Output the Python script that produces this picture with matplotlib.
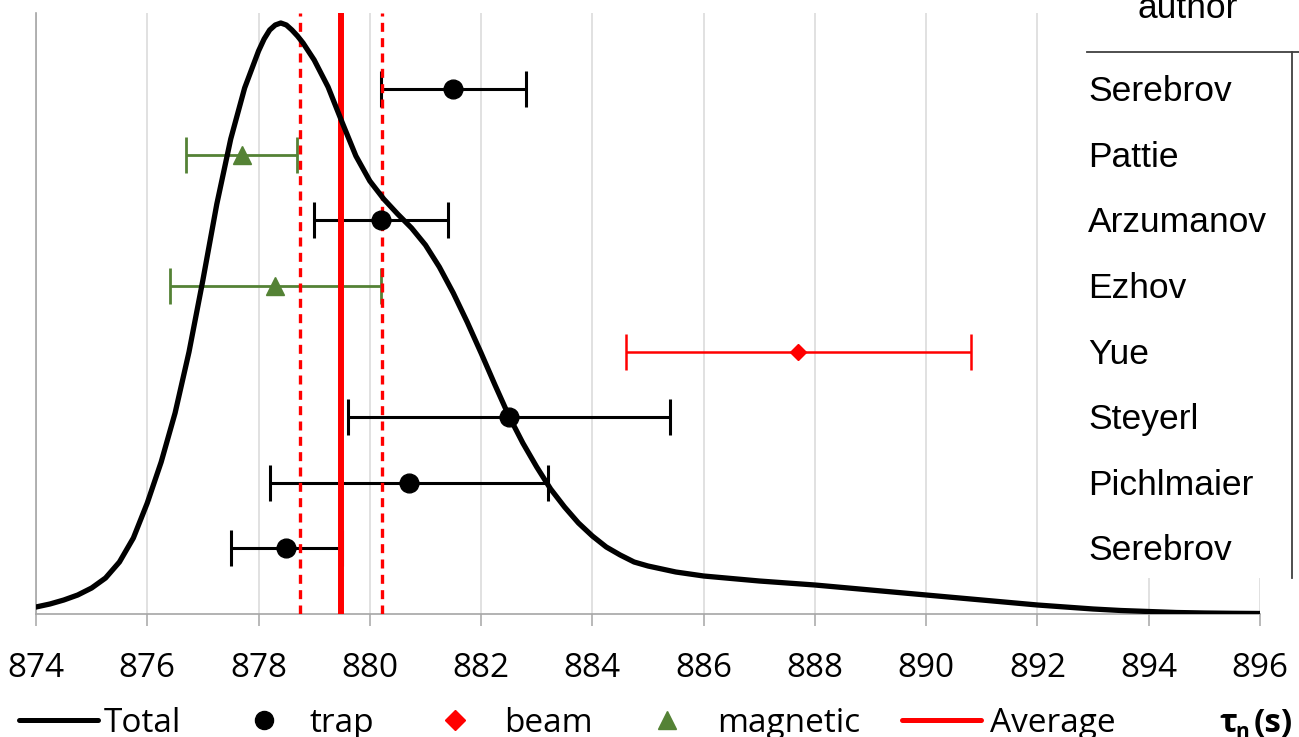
import matplotlib
matplotlib.use("Agg")
import matplotlib.pyplot as plt
from matplotlib.lines import Line2D
from matplotlib.patches import Rectangle

# Total distribution curve (arbitrary units)
curve_x = [874.0, 874.25, 874.5, 874.75, 875.0, 875.25, 875.5, 875.75,
           876.0, 876.25, 876.5, 876.75, 877.0, 877.25, 877.5, 877.75,
           878.0, 878.1, 878.2, 878.3, 878.4, 878.5, 878.6, 878.7, 878.8,
           879.0, 879.25, 879.5, 879.75, 880.0, 880.25, 880.5, 880.75,
           881.0, 881.25, 881.5, 881.75, 882.0, 882.25, 882.5, 882.75,
           883.0, 883.25, 883.5, 883.75, 884.0, 884.25, 884.5, 884.75,
           885.0, 885.25, 885.5, 885.75, 886.0, 886.5, 887.0, 887.5,
           888.0, 888.5, 889.0, 889.5, 890.0, 890.5, 891.0, 891.5, 892.0,
           892.5, 893.0, 893.5, 894.0, 894.5, 895.0, 895.5, 896.0]
curve_y = [7, 10, 14, 19, 26, 36, 52, 76,
           111, 152, 201, 262, 334, 410, 475, 526,
           563, 575, 584, 589, 591, 589, 584, 578, 571,
           554, 527, 492, 458, 433, 415, 400, 386,
           369, 347, 321, 292, 261, 229, 198, 171,
           147, 125, 107, 91, 78, 67, 59, 52,
           48, 45, 42, 40, 38, 35.5, 33, 31,
           29, 26.5, 24, 21.5, 19, 16.5, 14, 11.5, 9,
           7, 5, 3.5, 2.5, 1.5, 1, 0.7, 0.5]

# measurements, top to bottom
authors = ["Serebrov", "Pattie", "Arzumanov", "Ezhov", "Yue", "Steyerl",
           "Pichlmaier", "Serebrov"]
kinds = ["trap", "magnetic", "trap", "magnetic", "beam", "trap", "trap", "trap"]
tau = [881.5, 877.7, 880.2, 878.3, 887.7, 882.5, 880.7, 878.5]
tau_err = [1.3, 1.0, 1.2, 1.9, 3.1, 2.9, 2.5, 1.0]

average = 879.48
average_err = 0.74

W, H = 1299, 737
ROW_PX = 65.6  # pixel height of one table row


def fx(px):
    return px / W


def fy(py):
    return 1 - py / H


style = {
    "trap": dict(color="black", marker="o", ms=13.5, lw=2.2),
    "magnetic": dict(color="#548235", marker="^", ms=13.5, lw=2.0),
    "beam": dict(color="#ff0000", marker="D", ms=8.5, lw=1.8),
}

fig = plt.figure(figsize=(W / 100, H / 100), dpi=100)
ax = fig.add_axes([fx(36), fy(614), (1260 - 36) / W, (614 - 13) / H])

rows = list(range(len(authors), 0, -1))

for k in style:
    idx = [i for i, t in enumerate(kinds) if t == k]
    xs = [tau[i] for i in idx]
    ys = [rows[i] for i in idx]
    es = [tau_err[i] for i in idx]
    s = style[k]
    ax.errorbar(xs, ys, xerr=es, fmt="none", ecolor=s["color"],
                elinewidth=s["lw"], capsize=13, capthick=s["lw"], zorder=2)
    ax.plot(xs, ys, linestyle="none", marker=s["marker"], ms=s["ms"],
            color=s["color"], zorder=4)

ax.axvline(average, color="#ff0000", lw=4.3, zorder=3)
for v in (average - average_err, average + average_err):
    ax.axvline(v, color="#ff0000", lw=2.4, linestyle=(0, (2.7, 1.9)), zorder=3)

ax.set_xlim(874, 896)
ax.set_ylim(0, 601 / ROW_PX)
ax.set_xticks(range(874, 897, 2))
ax.set_yticks([])
ax.grid(axis="x", color="#d9d9d9", lw=1.1)
ax.set_axisbelow(True)
for side in ("top", "right"):
    ax.spines[side].set_visible(False)
ax.spines["left"].set_color("#a6a6a6")
ax.spines["bottom"].set_color("#a6a6a6")
ax.spines["left"].set_linewidth(1.2)
ax.spines["bottom"].set_linewidth(1.2)
ax.tick_params(axis="x", direction="out", length=8.5, width=1.1,
               color="#a6a6a6", labelsize=24, pad=19)
for lab in ax.get_xticklabels():
    lab.set_fontfamily("Open Sans")

ax2 = ax.twinx()
ax2.plot(curve_x, curve_y, color="black", lw=3.8, zorder=5,
         solid_joinstyle="round")
ax2.set_ylim(0, 601)
ax2.set_yticks([])
for side in ax2.spines:
    ax2.spines[side].set_visible(False)

# author table at the right
fig.add_artist(Rectangle((fx(1080), fy(578)), 1 - fx(1080), 578 / H,
                         transform=fig.transFigure, facecolor="white",
                         edgecolor="none", zorder=5))
fig.add_artist(Line2D([fx(1087), 1], [fy(52), fy(52)], color="#404040",
                      lw=1.3, zorder=6))
fig.add_artist(Line2D([fx(1292), fx(1292)], [fy(52), fy(578)],
                      color="#404040", lw=1.3, zorder=6))
fig.text(fx(1188), fy(18), "author", ha="center", va="baseline",
         fontfamily="Liberation Sans", fontsize=25.5, zorder=7)
for name, r in zip(authors, rows):
    fig.text(fx(1088), fy(614 - ROW_PX * r + 12), name, ha="left",
             va="baseline", fontfamily="Liberation Sans", fontsize=25.5,
             zorder=7)

# legend row
ly = fy(720)
base = fy(732)
fig.add_artist(Line2D([fx(19), fx(98)], [ly, ly], color="black", lw=3.6,
                      solid_capstyle="round"))
fig.text(fx(104), base, "Total", fontfamily="Open Sans", fontsize=24,
         va="baseline")
fig.add_artist(Line2D([fx(264)], [ly], marker="o", ms=13, color="black",
                      linestyle="none"))
fig.text(fx(310), base, "trap", fontfamily="Open Sans", fontsize=24,
         va="baseline")
fig.add_artist(Line2D([fx(455)], [ly], marker="D", ms=10, color="#ff0000",
                      linestyle="none"))
fig.text(fx(504), base, "beam", fontfamily="Open Sans", fontsize=24,
         va="baseline")
fig.add_artist(Line2D([fx(667)], [ly], marker="^", ms=13, color="#548235",
                      linestyle="none"))
fig.text(fx(717), base, "magnetic", fontfamily="Open Sans", fontsize=24,
         va="baseline")
fig.add_artist(Line2D([fx(902), fx(981)], [ly, ly], color="#ff0000", lw=3.6,
                      solid_capstyle="round"))
fig.text(fx(990), base, "Average", fontfamily="Open Sans", fontsize=24,
         va="baseline")
fig.text(fx(1219), base, "τ", fontfamily="Open Sans", fontsize=24,
         fontweight="bold", va="baseline")
fig.text(fx(1235), fy(738), "n", fontfamily="Open Sans", fontsize=15,
         fontweight="bold", va="baseline")
fig.text(fx(1254), base, "(s)", fontfamily="Open Sans", fontsize=24,
         fontweight="bold", va="baseline")

fig.savefig("out.png", dpi=100)
